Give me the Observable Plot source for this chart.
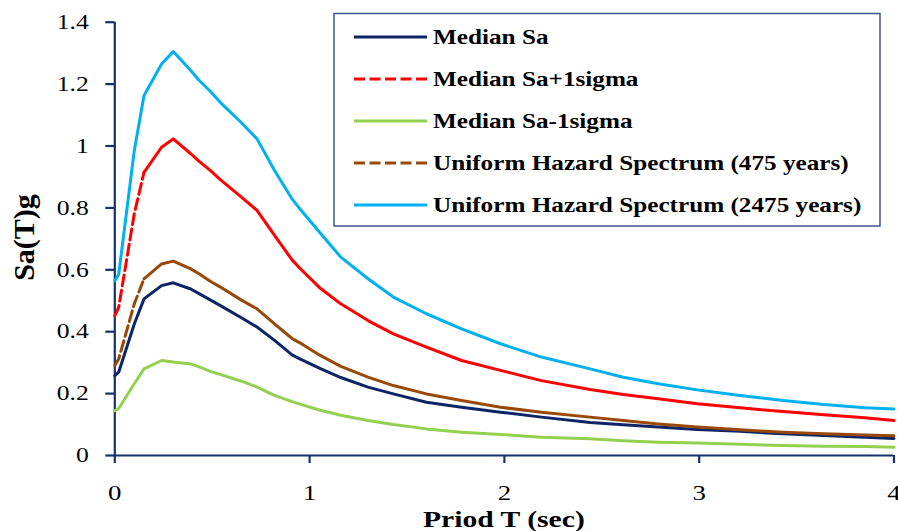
<!DOCTYPE html>
<html>
<head>
<meta charset="utf-8">
<script src="https://cdn.jsdelivr.net/npm/d3@7"></script>
<script src="https://cdn.jsdelivr.net/npm/@observablehq/plot@0.6"></script>
<style>
  html, body { margin: 0; padding: 0; background: #ffffff; }
  #chart { width: 898px; height: 531px; }
</style>
</head>
<body>
<div id="chart"></div>
<script>
// ---- data ----
const periods = [0, 0.02, 0.1, 0.15, 0.24, 0.3, 0.39, 0.43, 0.49, 0.54, 0.65, 0.73, 0.82, 0.91, 0.95, 1.05, 1.16, 1.3, 1.43, 1.6, 1.78, 1.98, 2.19, 2.44, 2.61, 2.79, 2.99, 3.21, 3.43, 3.64, 3.85, 4.0];
const medianSa = [0.258, 0.269, 0.425, 0.506, 0.549, 0.558, 0.538, 0.524, 0.503, 0.485, 0.445, 0.415, 0.372, 0.325, 0.312, 0.282, 0.252, 0.221, 0.199, 0.172, 0.156, 0.140, 0.124, 0.107, 0.099, 0.092, 0.084, 0.078, 0.070, 0.065, 0.059, 0.055];
const medianPlus1 = [0.452, 0.479, 0.781, 0.915, 0.996, 1.023, 0.975, 0.952, 0.921, 0.892, 0.835, 0.792, 0.711, 0.632, 0.605, 0.543, 0.490, 0.436, 0.393, 0.350, 0.307, 0.275, 0.242, 0.213, 0.197, 0.183, 0.167, 0.154, 0.142, 0.132, 0.122, 0.113];
const medianMinus1 = [0.145, 0.152, 0.232, 0.280, 0.307, 0.302, 0.296, 0.287, 0.272, 0.262, 0.240, 0.221, 0.194, 0.174, 0.166, 0.147, 0.130, 0.113, 0.100, 0.086, 0.075, 0.068, 0.059, 0.054, 0.048, 0.043, 0.040, 0.036, 0.032, 0.030, 0.029, 0.027];
const uhs475 = [0.291, 0.312, 0.490, 0.571, 0.619, 0.628, 0.603, 0.588, 0.563, 0.545, 0.502, 0.474, 0.425, 0.378, 0.364, 0.325, 0.288, 0.253, 0.226, 0.199, 0.178, 0.156, 0.140, 0.124, 0.113, 0.102, 0.092, 0.083, 0.075, 0.070, 0.066, 0.064];
const uhs2475 = [0.565, 0.585, 0.985, 1.163, 1.265, 1.305, 1.244, 1.214, 1.177, 1.142, 1.075, 1.023, 0.921, 0.829, 0.797, 0.722, 0.641, 0.571, 0.512, 0.458, 0.409, 0.361, 0.318, 0.280, 0.253, 0.232, 0.212, 0.194, 0.178, 0.165, 0.154, 0.150];

const seriesNames = ["Median Sa", "Median Sa+1sigma", "Median Sa-1sigma", "Uniform Hazard Spectrum (475 years)", "Uniform Hazard Spectrum (2475 years)"];
const seriesValues = [medianSa, medianPlus1, medianMinus1, uhs475, uhs2475];
const seriesColors = ["#0B2566", "#FF0000", "#92D050", "#984807", "#00B0F0"];
const seriesDashed = [false, true, false, true, false];
const dashedUntil = 0.15;

const xTicks = [0, 1, 2, 3, 4];
const yTicks = [0, 0.2, 0.4, 0.6, 0.8, 1, 1.2, 1.4];
const xTitle = "Priod T (sec)";
const yTitle = "Sa(T)g";

// ---- build tables ----
const solidRows = [];
const dashRows = [];
seriesNames.forEach((name, s) => {
  periods.forEach((T, i) => {
    const row = {T, Sa: seriesValues[s][i], series: name};
    if (seriesDashed[s]) {
      if (T <= dashedUntil) dashRows.push(row);
      if (T >= dashedUntil) solidRows.push(row);
    } else {
      solidRows.push(row);
    }
  });
});

const axisColor = "#14336E";
const serif = "'Liberation Serif', 'Times New Roman', Times, serif";

const chart = Plot.plot({
  width: 898,
  height: 531,
  marginTop: 21.7,
  marginBottom: 76,
  marginLeft: 114.3,
  marginRight: 4.5,
  style: {fontFamily: serif, background: "#ffffff", color: "#000"},
  x: {domain: [0, 4]},
  y: {domain: [0, 1.4]},
  color: {domain: seriesNames, range: seriesColors},
  marks: [
    Plot.axisY(yTicks, {tickSize: 9, tickPadding: 17, stroke: axisColor, strokeWidth: 2.2, fill: "#000", fontSize: 21, tickFormat: d => String(d), label: null}),
    Plot.axisX(xTicks, {tickSize: 8, tickPadding: 21, stroke: axisColor, strokeWidth: 2.2, fill: "#000", fontSize: 22, tickFormat: d => String(d), label: null}),
    Plot.ruleX([0], {y1: 0, y2: 1.4, stroke: axisColor, strokeWidth: 2.2}),
    Plot.ruleY([0], {x1: 0, x2: 4, stroke: axisColor, strokeWidth: 2.2}),
    Plot.line(solidRows, {x: "T", y: "Sa", z: "series", stroke: "series", strokeWidth: 3, strokeLinejoin: "round"}),
    Plot.line(dashRows, {x: "T", y: "Sa", z: "series", stroke: "series", strokeWidth: 3, strokeDasharray: "11,4.5"})
  ]
});

document.getElementById("chart").appendChild(chart);

const svg = d3.select(chart);
svg.selectAll("text").attr("data-stretch", "1.22");

// axis titles
svg.append("text")
  .attr("x", (114.3 + 893.5) / 2)
  .attr("y", 527)
  .attr("text-anchor", "middle")
  .attr("font-family", serif)
  .attr("font-weight", "bold")
  .attr("font-size", 23.5)
  .attr("fill", "#000")
  .attr("data-stretch", "1.26")
  .text(xTitle);

svg.append("text")
  .attr("transform", "translate(34,237.5) rotate(-90)")
  .attr("text-anchor", "middle")
  .attr("font-family", serif)
  .attr("font-weight", "bold")
  .attr("font-size", 30)
  .attr("fill", "#000")
  .text(yTitle);

// legend
const lg = svg.append("g").attr("class", "legend");
lg.append("rect")
  .attr("x", 334).attr("y", 13.5).attr("width", 546).attr("height", 212.5)
  .attr("fill", "#ffffff").attr("stroke", "#40558C").attr("stroke-width", 1.5);
const items = lg.selectAll("g.item").data(seriesNames).join("g")
  .attr("class", "item")
  .attr("transform", (d, i) => `translate(0,${37 + 42 * i})`);
items.append("line")
  .attr("x1", 354).attr("x2", 427).attr("y1", 0).attr("y2", 0)
  .attr("stroke", (d, i) => seriesColors[i])
  .attr("stroke-width", 3)
  .attr("stroke-dasharray", (d, i) => seriesDashed[i] ? "11,4.5" : null);
items.append("text")
  .attr("x", 433).attr("y", 7)
  .attr("text-anchor", "start")
  .attr("font-family", serif)
  .attr("font-weight", "bold")
  .attr("font-size", 21)
  .attr("fill", "#000")
  .attr("data-stretch", "1.2")
  .text(d => d);

// horizontal stretch of text glyphs, as in the reference picture
svg.selectAll("text[data-stretch]").each(function () {
  const s = +this.getAttribute("data-stretch");
  const len = this.getComputedTextLength();
  if (len > 0) {
    this.setAttribute("textLength", (len * s).toFixed(2));
    this.setAttribute("lengthAdjust", "spacingAndGlyphs");
  }
});
</script>
</body>
</html>
